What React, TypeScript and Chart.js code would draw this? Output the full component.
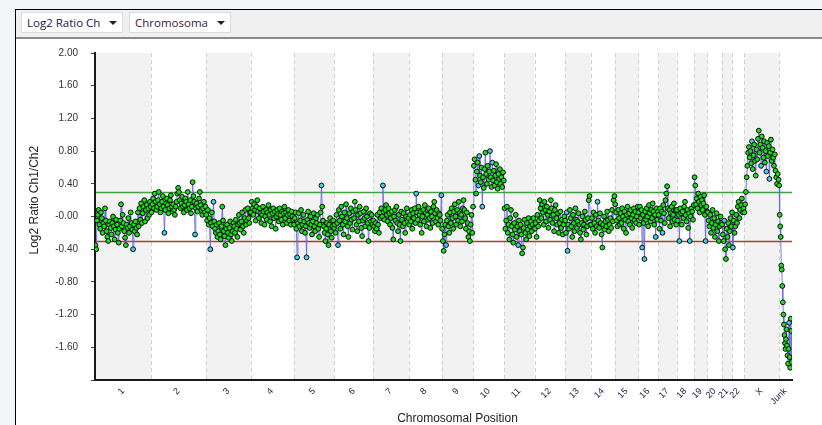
import React, { useEffect, useRef } from 'react';
import { Chart, registerables } from 'chart.js';

Chart.register(...registerables);

// ---------- data ----------
const chromLabels = ['1', '2', '3', '4', '5', '6', '7', '8', '9', '10', '11', '12', '13', '14', '15', '16', '17', '18', '19', '20', '21', '22', 'X', 'Junk'];
// chromosome lengths (Mb)
const chromLengths = [249, 243, 198, 191, 181, 171, 159, 146, 141, 136, 135, 134, 115, 107, 103, 90, 81, 78, 59, 63, 48, 51, 155, 58];

const chr1 = [-0.35, -0.40, -0.05, 0.02, 0.08, -0.10, -0.15, 0.05, -0.02, -0.20, -0.08, -0.12, 0.10, -0.05, -0.18, -0.25, -0.30, -0.10, -0.06, -0.14, -0.22, -0.08, 0.00, -0.12, -0.28, -0.16, -0.04, -0.10, -0.20, -0.32, -0.15, -0.05, 0.15, -0.12, 0.02, -0.08, -0.18, -0.26, -0.35, -0.10, -0.14, -0.02, -0.20, -0.12, 0.05, -0.08, -0.16, -0.40, -0.10, -0.18, -0.06, -0.14, -0.22, 0.05, -0.12, 0.10, -0.04, 0.16, -0.08, 0.04, 0.12, 0.20, -0.06, 0.08, 0.14, -0.02, 0.10, 0.02, 0.18, 0.12];
const chr2 = [0.05, 0.15, 0.22, 0.10, 0.28, 0.18, 0.08, 0.12, 0.20, 0.30, 0.15, 0.05, 0.10, 0.18, 0.25, 0.12, -0.20, 0.08, 0.16, 0.22, 0.14, 0.04, 0.10, 0.20, 0.26, 0.12, 0.06, 0.15, 0.08, 0.02, 0.12, 0.18, 0.28, 0.35, 0.30, 0.20, 0.10, 0.16, 0.24, 0.12, 0.05, 0.14, 0.22, 0.18, 0.08, 0.30, 0.15, 0.10, 0.20, 0.04, 0.12, 0.42, 0.25, 0.18, -0.22, 0.10, 0.16, 0.06, 0.12, 0.22, 0.30, 0.14, 0.08, 0.02, 0.10, 0.18, 0.05, 0.12];
const chr3 = [0.02, -0.05, 0.08, -0.10, -0.02, -0.40, -0.08, 0.05, -0.12, 0.18, -0.06, -0.15, -0.20, -0.10, -0.25, -0.18, -0.08, -0.22, -0.28, -0.12, 0.12, -0.05, -0.18, -0.24, -0.35, -0.15, -0.10, -0.20, -0.26, -0.14, -0.06, -0.22, -0.30, -0.18, -0.08, -0.12, -0.20, -0.04, -0.15, -0.25, -0.10, 0.02, -0.08, -0.16, -0.06, 0.05, -0.12, -0.20, -0.02, 0.08, -0.10, -0.05, 0.10, -0.02, -0.08, 0.04];
const chr4 = [0.05, 0.18, 0.10, 0.02, 0.15, 0.08, -0.05, 0.12, 0.20, 0.06, -0.02, 0.10, 0.04, -0.08, 0.02, 0.12, 0.06, -0.10, 0.00, 0.08, -0.04, 0.05, 0.14, 0.02, -0.06, 0.08, -0.12, 0.04, 0.10, -0.02, 0.06, -0.15, 0.00, 0.08, 0.03, -0.06, 0.10, 0.02, -0.04, 0.06, -0.10, 0.04, 0.12, -0.02, 0.05, -0.08, 0.02, 0.08, -0.05, 0.03, -0.10, 0.06, 0.00, -0.04];
const chr5 = [-0.10, -0.02, 0.05, -0.15, -0.50, -0.08, 0.04, -0.12, -0.05, 0.08, -0.18, -0.10, 0.02, -0.06, -0.20, -0.12, -0.50, -0.04, 0.06, -0.08, -0.14, 0.00, -0.10, -0.22, -0.06, 0.04, -0.12, -0.18, -0.02, -0.08, 0.02, -0.15, -0.25, -0.10, 0.05, 0.38, 0.12, -0.05, -0.12, -0.20, -0.30, -0.15, -0.08, -0.22, -0.35, -0.10, -0.02, -0.18, -0.26, -0.12, -0.05, -0.14];
const chr6 = [-0.10, -0.20, 0.02, -0.08, -0.35, 0.08, -0.05, -0.15, 0.12, 0.00, -0.10, -0.22, 0.05, -0.06, 0.15, -0.02, -0.12, -0.25, 0.04, -0.08, 0.10, -0.04, -0.16, 0.06, -0.02, 0.18, 0.08, -0.10, -0.18, 0.02, -0.06, 0.12, 0.04, -0.14, -0.24, -0.05, 0.06, -0.02, -0.12, 0.10, 0.00, -0.08, -0.30, -0.14, 0.04, -0.06, 0.02, -0.10];
const chr7 = [-0.05, -0.12, -0.18, -0.08, -0.15, 0.02, -0.10, -0.20, 0.05, -0.02, 0.10, 0.00, 0.38, 0.06, -0.04, 0.08, 0.14, 0.02, -0.06, 0.10, 0.04, -0.10, -0.02, 0.06, -0.14, -0.28, 0.00, 0.08, -0.05, 0.12, -0.08, -0.18, 0.02, -0.10, -0.30, 0.06, -0.04, -0.12, 0.04, -0.08, -0.20, 0.00, 0.10, -0.06, -0.02];
const chr8 = [-0.10, 0.02, -0.06, 0.08, -0.15, 0.04, -0.02, 0.10, -0.08, 0.28, 0.05, -0.04, 0.12, 0.02, -0.10, 0.06, -0.20, 0.00, 0.08, -0.06, 0.14, 0.04, -0.12, 0.02, -0.04, 0.10, -0.02, -0.14, 0.06, 0.00, -0.08, 0.12, 0.18, 0.04, -0.06, 0.08, -0.02, -0.10, 0.04, 0.02, -0.05, 0.26];
const chr9 = [-0.15, -0.30, -0.42, -0.22, -0.10, -0.35, -0.05, 0.02, -0.12, -0.20, 0.05, -0.08, 0.10, -0.02, -0.15, 0.06, 0.15, 0.00, -0.10, 0.08, -0.05, 0.18, 0.04, -0.12, 0.02, -0.06, 0.10, 0.20, 0.08, -0.02, -0.15, 0.05, -0.08, -0.25, -0.18, -0.30, -0.10, 0.02, -0.20, 0.12];
const chr10 = [0.62, 0.70, 0.45, 0.28, 0.55, 0.66, 0.38, 0.74, 0.50, 0.42, 0.60, 0.12, 0.48, 0.35, 0.58, 0.78, 0.52, 0.40, 0.62, 0.45, 0.55, 0.80, 0.48, 0.36, 0.66, 0.44, 0.56, 0.38, 0.50, 0.64, 0.42, 0.34, 0.52, 0.46, 0.58, 0.40, 0.48, 0.36, 0.54, 0.44];
const chr11 = [0.10, -0.15, -0.05, 0.12, -0.20, -0.10, -0.28, -0.02, 0.08, -0.12, -0.22, -0.32, -0.08, -0.16, 0.02, -0.25, -0.12, -0.35, -0.05, -0.18, -0.10, -0.22, -0.45, -0.38, -0.14, -0.04, -0.20, -0.28, -0.08, -0.16, -0.02, -0.24, -0.12, -0.06, -0.18, -0.10, -0.02, -0.14];
const chr12 = [-0.15, -0.08, -0.25, 0.02, -0.12, -0.05, 0.20, 0.10, -0.02, 0.15, 0.05, -0.10, 0.18, 0.08, -0.06, 0.12, 0.02, -0.14, 0.06, -0.04, 0.20, 0.10, -0.08, 0.02, -0.18, 0.08, 0.14, -0.02, -0.10, 0.04, -0.20, -0.08, 0.06, -0.14, -0.04, -0.22, -0.10, 0.00];
const chr13 = [-0.05, -0.20, 0.05, -0.42, -0.10, -0.15, 0.08, -0.02, -0.12, -0.25, 0.02, -0.08, -0.18, 0.10, -0.04, -0.14, -0.06, 0.04, -0.10, -0.20, -0.28, -0.08, 0.00, -0.16, -0.10, 0.06, -0.04, -0.22, -0.12, -0.02, 0.20, 0.25, -0.10];
const chr14 = [-0.10, -0.02, -0.15, 0.05, -0.08, -0.20, 0.02, -0.12, 0.18, -0.05, -0.14, 0.04, -0.08, -0.22, -0.38, -0.10, 0.00, -0.16, -0.06, -0.12, 0.06, -0.04, -0.18, -0.10, -0.02, -0.14, 0.08, -0.06, 0.20, 0.25];
const chr15 = [0.15, 0.05, -0.05, -0.12, 0.08, -0.02, -0.10, 0.04, -0.08, 0.10, 0.00, -0.15, 0.06, -0.04, -0.20, 0.02, 0.12, -0.06, 0.04, -0.10, 0.08, -0.02, -0.14, 0.02, 0.10, -0.05, 0.06, -0.08, 0.00, 0.12];
const chr16 = [0.05, -0.10, 0.12, -0.02, 0.08, -0.38, 0.02, -0.08, -0.52, 0.06, -0.04, 0.10, 0.00, -0.12, 0.14, 0.04, -0.06, 0.08, -0.02, 0.16, 0.06, -0.10, 0.02, -0.25, 0.10, -0.04, 0.06];
const chr17 = [0.02, -0.15, 0.10, -0.05, 0.06, -0.20, 0.14, 0.04, -0.08, 0.20, 0.28, 0.37, 0.10, -0.02, 0.08, -0.12, 0.04, 0.12, -0.06, 0.02, 0.16, -0.04, 0.08, -0.10];
const chr18 = [0.08, -0.05, 0.02, -0.30, 0.10, 0.04, -0.10, 0.06, -0.02, 0.12, 0.18, 0.02, -0.06, 0.08, -0.14, 0.04, -0.30, 0.00, 0.10, 0.06, -0.04, 0.14];
const chr19 = [0.48, 0.38, 0.15, 0.22, 0.10, 0.28, 0.18, 0.05, 0.24, 0.14, 0.20, 0.08, 0.16, 0.26, 0.02, -0.30, 0.12, 0.06];
const chr20 = [0.05, -0.05, -0.12, 0.02, -0.20, -0.08, 0.08, -0.14, -0.02, -0.25, -0.10, 0.04, -0.18, -0.06, -0.30, -0.12, 0.00, -0.08];
const chr21 = [-0.10, -0.22, -0.30, -0.05, -0.40, -0.52, -0.15, -0.25, -0.08, -0.35, -0.18, -0.02, -0.12, 0.05];
const chr22 = [-0.38, -0.05, -0.20, -0.12, 0.02, -0.08, 0.12, 0.18, -0.02, 0.08, 0.14, 0.22, 0.05, 0.10];
const chrX = [0.05, 0.15, 0.30, 0.48, 0.62, 0.78, 0.85, 0.72, 0.80, 0.65, 0.92, 0.58, 0.75, 0.88, 0.68, 0.50, 0.82, 0.70, 0.95, 1.05, 0.78, 0.88, 0.62, 0.98, 0.84, 0.72, 0.92, 0.66, 0.80, 0.55, 0.90, 0.74, 0.86, 0.46, 0.78, 0.94, 0.68, 0.82, 0.72, 0.62, 0.76, 0.56, 0.48, 0.40, 0.52, 0.45];
const chrJunk = [0.38, 0.02, -0.12, -0.25, -0.60, -0.65, -0.85, -1.05, -1.20, -1.32, -1.45, -1.55, -1.62, -1.50, -1.38, -1.58, -1.70, -1.80, -1.62, -1.30, -1.72, -1.85, -1.25, -1.40, -1.78];

const chromValues = [chr1, chr2, chr3, chr4, chr5, chr6, chr7, chr8, chr9, chr10, chr11, chr12, chr13, chr14, chr15, chr16, chr17, chr18, chr19, chr20, chr21, chr22, chrX, chrJunk];

const yMin = -2;
const yMax = 2;
const yStep = 0.4;
const gainThreshold = 0.3;
const lossThreshold = -0.3;

// ---------- derived ----------
const chromStarts: number[] = [];
{
  let s = 0;
  chromLengths.forEach((l) => { chromStarts.push(s); s += l; });
}
const genomeTotal = chromLengths.reduce((a, b) => a + b, 0);
const chromMids = chromLengths.map((l, i) => chromStarts[i] + l / 2);

const points: { x: number; y: number }[] = [];
chromValues.forEach((vals, c) => {
  vals.forEach((v, i) => {
    points.push({ x: chromStarts[c] + ((i + 0.5) / vals.length) * chromLengths[c], y: v });
  });
});

function isSpike(i: number) {
  const v = points[i].y;
  const p = i > 0 ? points[i - 1].y : v;
  const n = i < points.length - 1 ? points[i + 1].y : v;
  const d1 = v - p;
  const d2 = v - n;
  return (d1 > 0.22 && d2 > 0.22) || (d1 < -0.22 && d2 < -0.22);
}

const backgroundPlugin = {
  id: 'chromBands',
  beforeDraw(chart: any) {
    const { ctx, chartArea: a, scales } = chart;
    const xs = scales.x;
    const ys = scales.y;
    ctx.save();
    chromLengths.forEach((len, i) => {
      if (i % 2 === 0) {
        const x0 = xs.getPixelForValue(chromStarts[i]);
        const x1 = xs.getPixelForValue(chromStarts[i] + len);
        ctx.fillStyle = '#f2f2f2';
        ctx.fillRect(x0, a.top, x1 - x0, a.bottom - a.top);
      }
    });
    ctx.strokeStyle = '#d2d2d2';
    ctx.lineWidth = 1;
    ctx.setLineDash([4, 3]);
    chromLengths.forEach((len, i) => {
      if (i === chromLengths.length - 1) return;
      const px = Math.round(xs.getPixelForValue(chromStarts[i] + len)) + 0.5;
      ctx.beginPath();
      ctx.moveTo(px, a.top);
      ctx.lineTo(px, a.bottom);
      ctx.stroke();
    });
    ctx.setLineDash([]);
    const drawH = (v: number, color: string) => {
      const py = Math.round(ys.getPixelForValue(v)) + 0.5;
      ctx.strokeStyle = color;
      ctx.lineWidth = 1.3;
      ctx.beginPath();
      ctx.moveTo(a.left, py);
      ctx.lineTo(a.right, py);
      ctx.stroke();
    };
    drawH(gainThreshold, '#3fa33f');
    drawH(lossThreshold, '#a34040');
    ctx.restore();
  },
};

const titlesPlugin = {
  id: 'axisTitles',
  afterDraw(chart: any) {
    const { ctx, chartArea: a } = chart;
    ctx.save();
    ctx.fillStyle = '#222';
    ctx.font = '12px Arial, "Liberation Sans", sans-serif';
    ctx.textAlign = 'center';
    ctx.textBaseline = 'middle';
    ctx.translate(a.left - 60, a.top + (a.bottom - a.top) * 0.45);
    ctx.rotate(-Math.PI / 2);
    ctx.fillText('Log2 Ratio Ch1/Ch2', 0, 0);
    ctx.restore();
    ctx.save();
    ctx.fillStyle = '#222';
    ctx.font = '12px Arial, "Liberation Sans", sans-serif';
    ctx.textAlign = 'center';
    ctx.textBaseline = 'middle';
    ctx.fillText('Chromosomal Position', (a.left + a.right) / 2 + 14, a.bottom + 39);
    ctx.restore();
  },
};

function ChartCanvas() {
  const ref = useRef<HTMLCanvasElement | null>(null);
  useEffect(() => {
    if (!ref.current) return;
    const chart = new Chart(ref.current, {
      type: 'scatter',
      data: {
        datasets: [
          {
            data: points,
            showLine: true,
            borderColor: 'rgba(100,100,230,0.85)',
            borderWidth: 1,
            pointRadius: 2.4,
            pointBorderWidth: 1,
            pointBorderColor: '#0a0a0a',
            pointBackgroundColor: (c: any) => (isSpike(c.dataIndex) ? '#40cdea' : '#18e018'),
            tension: 0,
          } as any,
        ],
      },
      options: {
        animation: false,
        responsive: false,
        devicePixelRatio: 1,
        layout: { padding: { top: 15, right: 30, left: 0, bottom: 0 } },
        plugins: { legend: { display: false }, tooltip: { enabled: false } },
        scales: {
          x: {
            type: 'linear',
            min: 0,
            max: genomeTotal,
            afterBuildTicks: (scale: any) => {
              scale.ticks = chromMids.map((v) => ({ value: v }));
            },
            afterFit: (scale: any) => {
              scale.height = 45;
              scale.paddingLeft = 0;
              scale.paddingRight = 0;
            },
            grid: { display: false, drawTicks: false },
            border: { display: true, color: '#1a1a1a', width: 2 },
            ticks: {
              autoSkip: false,
              maxRotation: 45,
              minRotation: 45,
              padding: 6,
              color: '#20204a',
              font: { family: 'Arial, "Liberation Sans", sans-serif', size: 9 },
              callback: (_v: any, i: number) => chromLabels[i],
            },
          },
          y: {
            type: 'linear',
            min: yMin,
            max: yMax,
            afterFit: (scale: any) => {
              scale.width = 79;
              scale.paddingTop = 0;
              scale.paddingBottom = 0;
            },
            grid: { display: true, drawOnChartArea: false, drawTicks: true, tickLength: 4, color: '#444' },
            border: { display: true, color: '#1a1a1a', width: 2 },
            ticks: {
              stepSize: yStep,
              autoSkip: false,
              padding: 13,
              color: '#333',
              font: { family: 'Arial, "Liberation Sans", sans-serif', size: 10 },
              callback: (v: any) => {
                const n = Number(v);
                if (n < yMin + 0.01) return '';
                if (Math.abs(n) < 1e-6) return '-0.00';
                return n.toFixed(2);
              },
            },
          },
        },
      },
      plugins: [backgroundPlugin, titlesPlugin],
    } as any);
    return () => chart.destroy();
  }, []);
  return <canvas ref={ref} width={806} height={387} style={{ position: 'absolute', left: 16, top: 38, width: 806, height: 387 }} />;
}

function Dropdown({ label, color, left, width }: { label: string; color: string; left: number; width: number }) {
  return (
    <div
      style={{
        position: 'absolute',
        left,
        top: 12,
        width,
        height: 21,
        background: '#fff',
        border: '1px solid #dcdcdc',
        boxSizing: 'border-box',
        fontFamily: '"Open Sans", "Noto Sans", sans-serif',
        fontSize: 11.5,
        color,
        lineHeight: '19px',
        paddingLeft: 5,
        whiteSpace: 'nowrap',
      }}
    >
      {label}
      <div
        style={{
          position: 'absolute',
          right: 5,
          top: 8,
          width: 0,
          height: 0,
          borderLeft: '4px solid transparent',
          borderRight: '4px solid transparent',
          borderTop: '4px solid #222',
        }}
      />
    </div>
  );
}

export default function App() {
  return (
    <div style={{ position: 'absolute', left: 0, top: 0, width: 822, height: 425, overflow: 'hidden', background: '#f3f6f9' }}>
      <div
        style={{
          position: 'absolute',
          left: 15,
          top: 9,
          width: 807,
          height: 416,
          background: '#fff',
          borderLeft: '1px solid #000',
          borderTop: '1px solid #000',
          boxSizing: 'border-box',
        }}
      >
        <div style={{ position: 'absolute', left: 0, top: 0, right: 0, height: 27, background: '#f0f0f0', borderBottom: '2px solid #8a8a8a' }} />
      </div>
      <Dropdown label="Log2 Ratio Ch" color="#241640" left={21} width={102} />
      <Dropdown label="Chromosoma" color="#3a1a3a" left={129} width={102} />
      <ChartCanvas />
    </div>
  );
}
